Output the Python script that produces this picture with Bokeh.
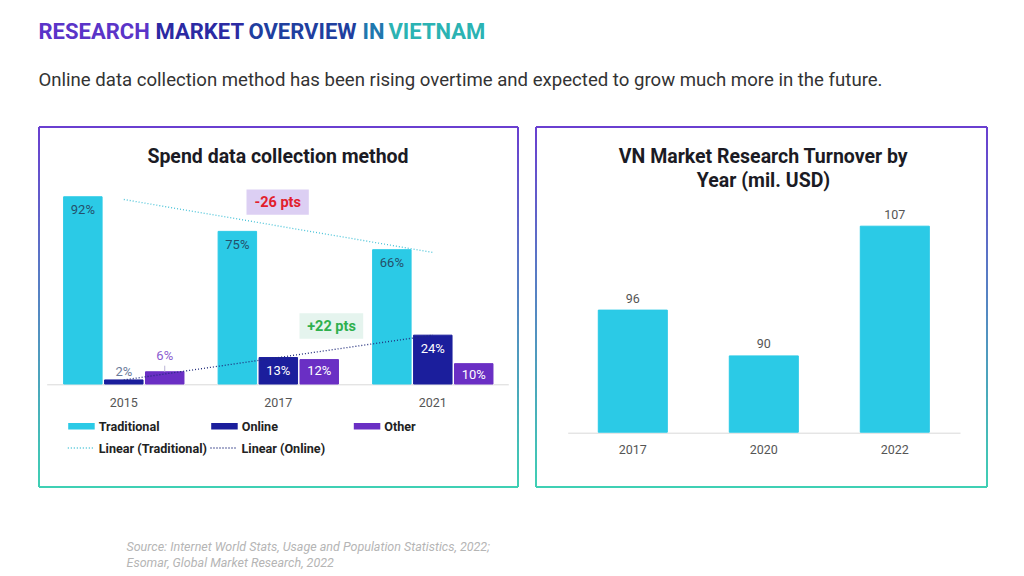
from bokeh.plotting import figure
from bokeh.models import Range1d, ColumnDataSource
from bokeh.core.properties import value
from bokeh.embed import file_html
from bokeh.resources import INLINE
import numpy as np

# ---------------- data ----------------
years_left = ["2015", "2017", "2021"]
traditional = [92, 75, 66]
online = [2, 13, 24]
other = [6, 12, 10]

years_right = ["2017", "2020", "2022"]
turnover = [96, 90, 107]
turnover_axis_min = 80

title_words = ["RESEARCH", "MARKET", "OVERVIEW", "IN", "VIETNAM"]
subtitle = "Online data collection method has been rising overtime and expected to grow much more in the future."
source_lines = ["Source: Internet World Stats, Usage and Population Statistics, 2022;",
                "Esomar, Global Market Research, 2022"]

# ---------------- colours ----------------
C_TRAD = "#2bcae6"
C_ONL = "#1b1e9c"
C_OTH = "#6a2fc4"
FONT = "Roboto"

W, H = 1008, 572
p = figure(width=W, height=H, output_backend="svg", toolbar_location=None,
           x_range=Range1d(0, W), y_range=Range1d(H, 0),
           x_axis_type=None, y_axis_type=None, min_border=0,
           outline_line_color=None, background_fill_color="white",
           border_fill_color="white")
p.grid.visible = False

# ---------- layout constants (screen px) ----------
L_X0, L_DX, L_BASE, L_K = 123.3, 154.5, 383.5, 2.035
R_X0, R_DX, R_BASE, R_K = 632.3, 131.0, 431.7, 7.63

p.extra_x_ranges = {
    "lx": Range1d((0 - L_X0) / L_DX, (W - L_X0) / L_DX),
    "rx": Range1d((0 - R_X0) / R_DX, (W - R_X0) / R_DX),
}
p.extra_y_ranges = {
    "ly": Range1d((L_BASE - H) / L_K, (L_BASE - 0) / L_K),
    "ry": Range1d(turnover_axis_min + (R_BASE - H) / R_K,
                  turnover_axis_min + (R_BASE - 0) / R_K),
}

# ---------- gradient box borders ----------
def hexmix(c1, c2, t):
    a = [int(c1[i:i + 2], 16) for i in (1, 3, 5)]
    b = [int(c2[i:i + 2], 16) for i in (1, 3, 5)]
    return "#%02x%02x%02x" % tuple(int(round(a[k] + (b[k] - a[k]) * t)) for k in range(3))

TOP_C, BOT_C = "#6a3fd0", "#3fd0b4"
def box(x0, y0, x1, y1):
    p.segment(x0, y0, x1, y0, line_color=TOP_C, line_width=2)
    p.segment(x0, y1, x1, y1, line_color=BOT_C, line_width=2)
    n = 40
    ys = np.linspace(y0, y1, n + 1)
    cols = [hexmix(TOP_C, BOT_C, (i + 0.5) / n) for i in range(n)]
    for xx in (x0, x1):
        p.segment([xx] * n, ys[:-1], [xx] * n, ys[1:], line_color=cols, line_width=2)

box(38.5, 126.5, 517.5, 486.5)
box(535.5, 126.5, 986.5, 486.5)

# ---------- header ----------
title_cols = ["#5a34c8", "#2b2aa3", "#1f3f9f", "#1f78ae", "#2bb3b3"]
word_w = {"RESEARCH": 111, "MARKET": 87, "OVERVIEW": 108, "IN": 20, "VIETNAM": 96}
xs, xpos = [], 38
for w in title_words:
    xs.append(xpos)
    xpos += word_w[w] + 6
p.text(x=xs, y=[31] * len(xs), text=title_words, text_color=title_cols,
       text_font=value(FONT), text_font_size="22px", text_font_style="bold",
       text_baseline="middle")

p.text(x=[38], y=[79], text=[subtitle], text_color="#333333", text_font=value(FONT),
       text_font_size="18.6px", text_baseline="middle")

# ---------- left chart ----------
p.text(x=[277.5], y=[156], text=["Spend data collection method"], text_color="#1b1b24",
       text_font=value(FONT), text_font_size="19.5px", text_font_style="bold",
       text_align="center", text_baseline="middle")

idx = np.arange(len(years_left), dtype=float)
bw, off = 0.249, 0.265
p.segment(46.7, 384.3, 508.3, 384.3, line_color="#d9d9d9", line_width=1)
p.vbar(x=idx - off, top=traditional, width=bw, bottom=0, color=C_TRAD,
       x_range_name="lx", y_range_name="ly")
p.vbar(x=idx, top=online, width=bw, bottom=0, color=C_ONL,
       x_range_name="lx", y_range_name="ly")
p.vbar(x=idx + off, top=other, width=bw, bottom=0, color=C_OTH,
       x_range_name="lx", y_range_name="ly")

# trend lines (least-squares fit on the category index)
def fit(vals):
    k, b = np.polyfit(idx, vals, 1)
    return [b + k * idx[0], b + k * idx[-1]]
p.line([idx[0], idx[-1]], fit(traditional), line_color="#49c3d8", line_width=1.3,
       line_dash="1 2", x_range_name="lx", y_range_name="ly")
p.line([idx[0], idx[-1]], fit(online), line_color="#1f2a7a", line_width=1.3,
       line_dash="1 2", x_range_name="lx", y_range_name="ly")

# labels
lab_font = dict(text_font=value(FONT), text_font_size="13px", text_align="center",
                text_baseline="middle", x_range_name="lx", y_range_name="ly")
p.text(x=idx - off, y=traditional, text=[f"{v}%" for v in traditional], y_offset=13,
       text_color="#24506b", **lab_font)
for i, v in enumerate(online):
    p.text(x=[idx[i]], y=[v], text=[f"{v}%"], y_offset=13 if v >= 8 else -8,
           text_color="white" if v >= 8 else "#6a7a9a", **lab_font)
for i, v in enumerate(other):
    p.text(x=[idx[i] + off], y=[v], text=[f"{v}%"], y_offset=11 if v >= 8 else -16,
           text_color="white" if v >= 8 else "#8b5ccf", **lab_font)
    if v < 8:
        p.segment(idx[i] + off, v, idx[i] + off, v + 3, line_color="#b9b4d6",
                  line_width=1, x_range_name="lx", y_range_name="ly")

p.text(x=idx, y=[0] * len(idx), text=years_left, y_offset=18, text_color="#555555",
       text_font=value(FONT), text_font_size="12.5px", text_align="center",
       text_baseline="middle", x_range_name="lx", y_range_name="ly")

# annotations
p.quad(left=246, right=308.3, top=189, bottom=214.3, fill_color="#dccff3", line_color=None)
p.text(x=[277.2], y=[202], text=["-26 pts"], text_color="#e2202c", text_font=value(FONT),
       text_font_size="14.5px", text_font_style="bold", text_align="center",
       text_baseline="middle")
p.quad(left=299, right=362.7, top=312.7, bottom=338.3, fill_color="#e5f4ee", line_color=None)
p.text(x=[331], y=[325.7], text=["+22 pts"], text_color="#2fb04e", text_font=value(FONT),
       text_font_size="14.5px", text_font_style="bold", text_align="center",
       text_baseline="middle")

# legend (manual)
leg_font = dict(text_font=value(FONT), text_font_size="12.6px", text_font_style="bold",
                text_color="#222222", text_baseline="middle")
for x0, c, lab in [(67.7, C_TRAD, "Traditional"), (210.7, C_ONL, "Online"), (353.3, C_OTH, "Other")]:
    p.quad(left=x0, right=x0 + 26.5, top=422.5, bottom=429, fill_color=c, line_color=None)
    p.text(x=[x0 + 30.5], y=[426], text=[lab], **leg_font)
for x0, c, lab in [(67.3, "#49c3d8", "Linear (Traditional)"), (210, "#1f2a7a", "Linear (Online)")]:
    p.segment(x0, 447.5, x0 + 27, 447.5, line_color=c, line_width=1.3, line_dash="1 2")
    p.text(x=[x0 + 31], y=[447.5], text=[lab], **leg_font)

# ---------- right chart ----------
p.text(x=[763, 763], y=[156, 180], text=["VN Market Research Turnover by", "Year (mil. USD)"],
       text_color="#1b1b24", text_font=value(FONT), text_font_size="19.5px",
       text_font_style="bold", text_align="center", text_baseline="middle")
ridx = np.arange(len(years_right), dtype=float)
p.segment(567.7, 432.7, 960, 432.7, line_color="#d9d9d9", line_width=1)
p.vbar(x=ridx, top=turnover, bottom=turnover_axis_min, width=0.527, color=C_TRAD,
       x_range_name="rx", y_range_name="ry")
p.text(x=ridx, y=turnover, text=[str(v) for v in turnover], y_offset=-12,
       text_color="#555555", text_font=value(FONT), text_font_size="12.5px",
       text_align="center", text_baseline="middle", x_range_name="rx", y_range_name="ry")
p.text(x=ridx, y=[turnover_axis_min] * len(ridx), text=years_right, y_offset=17,
       text_color="#555555", text_font=value(FONT), text_font_size="12.5px",
       text_align="center", text_baseline="middle", x_range_name="rx", y_range_name="ry")

# ---------- source ----------
p.text(x=[126, 126], y=[546, 562], text=source_lines, text_color="#b5b5b5",
       text_font=value(FONT), text_font_size="12.5px", text_font_style="italic",
       text_baseline="middle")

open("out.html", "w").write(file_html(p, INLINE))
